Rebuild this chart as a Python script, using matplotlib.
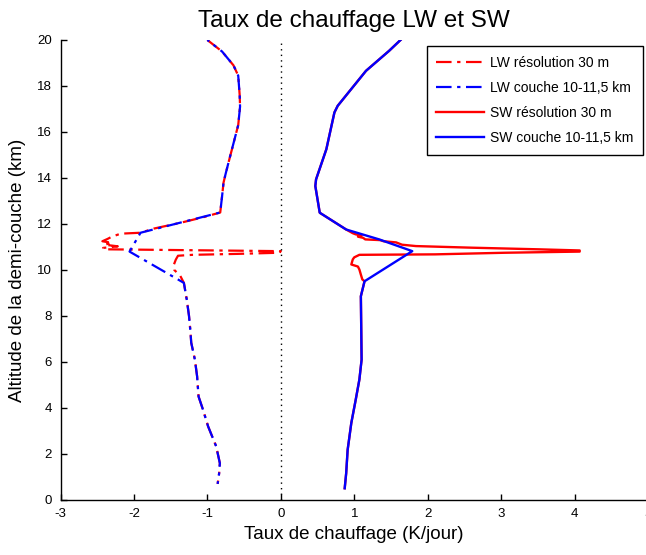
import matplotlib
matplotlib.use("Agg")
import matplotlib.pyplot as plt
from matplotlib.lines import Line2D

plt.rcParams['font.family'] = ['Liberation Sans', 'DejaVu Sans']
plt.rcParams['axes.unicode_minus'] = False

# ---- data ----
# LW, 30 m resolution
lw30_alt = [20.0, 19.5, 18.9, 18.45, 17.6, 17.1, 16.3, 15.5, 14.7, 14.2, 13.8, 13.2, 12.5,
            12.3, 12.05, 11.8, 11.62, 11.58, 11.45, 11.35, 11.25, 11.18, 11.1, 11.03, 10.96,
            10.9, 10.86, 10.82, 10.75, 10.70, 10.66, 10.62, 10.45, 10.2, 10.0, 9.75, 9.44,
            8.7, 8.0, 7.3, 6.84, 6.1, 5.38, 4.5, 3.93, 3.2, 2.33, 1.6, 1.16, 0.70]
lw30_val = [-1.00, -0.80, -0.645, -0.58, -0.56, -0.555, -0.58, -0.645, -0.71, -0.75, -0.78, -0.80, -0.825,
            -1.05, -1.37, -1.73, -1.91, -2.18, -2.30, -2.36, -2.43, -2.30, -2.40, -2.22, -2.42,
            -2.40, -1.20, 0.0, -0.02, -0.60, -1.20, -1.40, -1.43, -1.46, -1.45, -1.37, -1.32,
            -1.28, -1.25, -1.23, -1.22, -1.17, -1.14, -1.12, -1.06, -0.99, -0.88, -0.83, -0.84, -0.86]

# LW, layer 10-11.5 km
lwl_alt = [20.0, 19.5, 18.9, 18.45, 17.6, 17.1, 16.3, 15.5, 14.7, 14.2, 13.8, 13.2, 12.5,
           11.62, 10.80, 9.44, 8.7, 8.0, 7.3, 6.84, 6.1, 5.38, 4.5, 3.93, 3.2, 2.33, 1.6, 1.16, 0.70]
lwl_val = [-1.00, -0.80, -0.645, -0.58, -0.56, -0.555, -0.58, -0.645, -0.71, -0.75, -0.78, -0.80, -0.825,
           -1.91, -2.06, -1.32, -1.28, -1.25, -1.23, -1.22, -1.17, -1.14, -1.12, -1.06, -0.99, -0.88, -0.83, -0.84, -0.86]

# SW, 30 m resolution
sw30_alt = [20.0, 19.53, 18.66, 17.14, 16.85, 15.25, 13.94, 13.65, 12.49, 11.76, 11.6, 11.55,
            11.5, 11.45, 11.4, 11.33, 11.3, 11.25, 11.2, 11.1, 11.04, 10.97, 10.9, 10.85, 10.80,
            10.75, 10.68, 10.66, 10.55, 10.46, 10.35, 10.24, 10.15, 10.02, 9.8, 9.59, 9.51,
            8.86, 6.1, 5.24, 4.36, 3.35, 2.18, 1.16, 0.51]
sw30_val = [1.63, 1.475, 1.16, 0.775, 0.73, 0.62, 0.48, 0.47, 0.53, 0.89, 0.98, 1.02,
            1.10, 1.05, 1.12, 1.15, 1.35, 1.40, 1.57, 1.65, 1.84, 2.60, 3.50, 4.07, 4.07,
            3.05, 2.10, 1.07, 1.00, 0.98, 0.97, 0.96, 1.05, 1.07, 1.09, 1.11, 1.14,
            1.09, 1.10, 1.07, 1.02, 0.96, 0.91, 0.89, 0.87]

# SW, layer 10-11.5 km
swl_alt = [20.0, 19.53, 18.66, 17.14, 16.85, 15.25, 13.94, 13.65, 12.49, 11.76, 11.33, 10.82,
           9.51, 8.86, 6.1, 5.24, 4.36, 3.35, 2.18, 1.16, 0.51]
swl_val = [1.63, 1.475, 1.16, 0.775, 0.73, 0.62, 0.48, 0.47, 0.53, 0.89, 1.34, 1.79,
           1.14, 1.09, 1.10, 1.07, 1.02, 0.96, 0.91, 0.89, 0.87]

labels = ['LW résolution 30 m', 'LW couche 10-11,5 km', 'SW résolution 30 m', 'SW couche 10-11,5 km']
xticks = [-3, -2, -1, 0, 1, 2, 3, 4, 5]
yticks = list(range(0, 21, 2))

# ---- figure ----
fig = plt.figure(figsize=(6.46, 5.55), dpi=100)
W, H = 646, 555
ax = fig.add_axes([60.5 / W, 55 / H, (648 - 60.5) / W, 460 / H])

dd = (7, 2.5, 1.5, 2.5)
ax.plot(lw30_val, lw30_alt, color='#ff0000', lw=1.6, linestyle=(0, dd))
ax.plot(lwl_val, lwl_alt, color='#0000ff', lw=1.6, linestyle=(6, dd))
ax.plot(sw30_val, sw30_alt, color='#ff0000', lw=1.7)
ax.plot(swl_val, swl_alt, color='#0000ff', lw=1.7)
ax.axvline(0, color='black', lw=1.0, linestyle=(0, (1, 3)))

ax.set_xlim(-3, 5)
ax.set_ylim(0, 20)
ax.set_xticks(xticks)
ax.set_yticks(yticks)
ax.tick_params(direction='in', length=4, width=1, labelsize=9.5, pad=6)
for s in ['top', 'right']:
    ax.spines[s].set_visible(False)
for s in ['left', 'bottom']:
    ax.spines[s].set_linewidth(1.0)

ax.set_title('Taux de chauffage LW et SW', fontsize=17.5, pad=9)
ax.set_xlabel('Taux de chauffage (K/jour)', fontsize=13.5, labelpad=4)
ax.set_ylabel('Altitude de la demi-couche (km)', fontsize=13.5, labelpad=8)

handles = [
    Line2D([], [], color='#ff0000', lw=1.6, linestyle=(0, dd)),
    Line2D([], [], color='#0000ff', lw=1.6, linestyle=(0, dd)),
    Line2D([], [], color='#ff0000', lw=1.7),
    Line2D([], [], color='#0000ff', lw=1.7),
]
leg = ax.legend(handles, labels, loc='upper right', bbox_to_anchor=(643 / W, 1 - 46 / H),
                bbox_transform=fig.transFigure, borderaxespad=0, fontsize=10,
                fancybox=False, framealpha=1, edgecolor='black',
                handlelength=3.4, handletextpad=0.45, labelspacing=0.8,
                borderpad=0.7)
leg.get_frame().set_linewidth(1.0)

fig.savefig('out.png', dpi=100)
